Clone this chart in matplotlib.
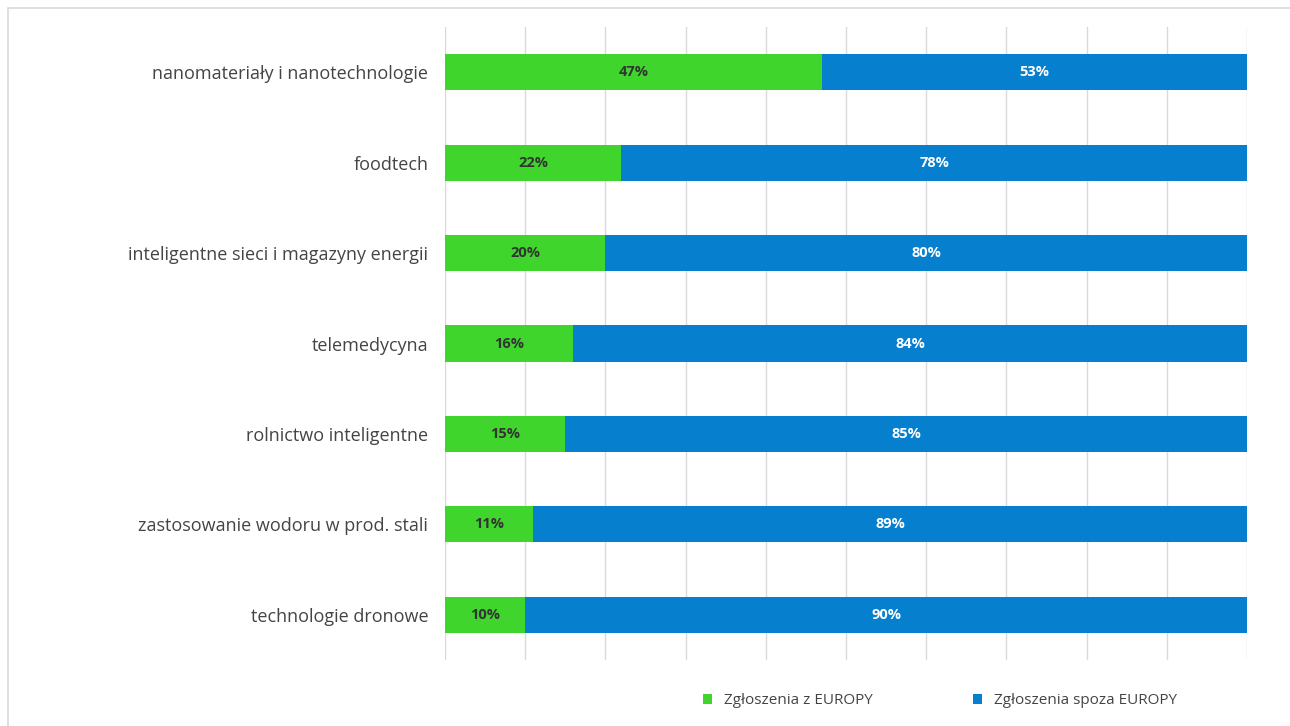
import matplotlib.pyplot as plt
from matplotlib.patches import Rectangle
import numpy as np

categories = [
    "nanomateriały i nanotechnologie",
    "foodtech",
    "inteligentne sieci i magazyny energii",
    "telemedycyna",
    "rolnictwo inteligentne",
    "zastosowanie wodoru w prod. stali",
    "technologie dronowe",
]
europe = [47, 22, 20, 16, 15, 11, 10]
non_europe = [53, 78, 80, 84, 85, 89, 90]
series_names = ["Zgłoszenia z EUROPY", "Zgłoszenia spoza EUROPY"]

GREEN = "#3fd52d"
BLUE = "#067fcf"

plt.rcParams["font.family"] = ["Open Sans", "DejaVu Sans"]

fig = plt.figure(figsize=(12.9, 7.26), dpi=100)
ax = fig.add_axes([445 / 1290, 66 / 726, 802 / 1290, 633 / 726])

y = np.arange(len(categories))
h = 0.4
b1 = ax.barh(y, europe, height=h, color=GREEN, label=series_names[0], zorder=3)
b2 = ax.barh(y, non_europe, left=europe, height=h, color=BLUE,
             label=series_names[1], zorder=3)

for i in range(len(categories)):
    ax.text(europe[i] / 2, y[i], f"{europe[i]}%", ha="center", va="center",
            fontsize=10.5, color="#333333", fontweight="bold", zorder=4)
    ax.text(europe[i] + non_europe[i] / 2, y[i], f"{non_europe[i]}%",
            ha="center", va="center", fontsize=10.5, color="white",
            fontweight="bold", zorder=4)

ax.set_xlim(0, 100)
ax.set_ylim(len(categories) - 0.5, -0.5)
ax.set_xticks(np.arange(0, 101, 10))
ax.set_xticklabels([])
ax.set_yticks(y)
ax.set_yticklabels(categories, fontsize=13, color="#444444")
ax.tick_params(axis="both", length=0, pad=12)
ax.grid(axis="x", color="#d9d9d9", linewidth=1, zorder=0)
for s in ax.spines.values():
    s.set_visible(False)

fig.legend(handles=[b1, b2], labels=series_names, loc="center",
           bbox_to_anchor=(940 / 1290, 1 - 701 / 726), ncol=2, frameon=False,
           fontsize=11, handlelength=0.6, handleheight=0.6,
           columnspacing=6.5, labelcolor="#444444")

# thin frame around the chart area
fig.patches.append(Rectangle((8 / 1290, -0.01), 1.0, 1 - 8 / 726 + 0.01,
                             transform=fig.transFigure, fill=False,
                             edgecolor="#d9d9d9", linewidth=1.2))

fig.savefig("out.png", dpi=100)
